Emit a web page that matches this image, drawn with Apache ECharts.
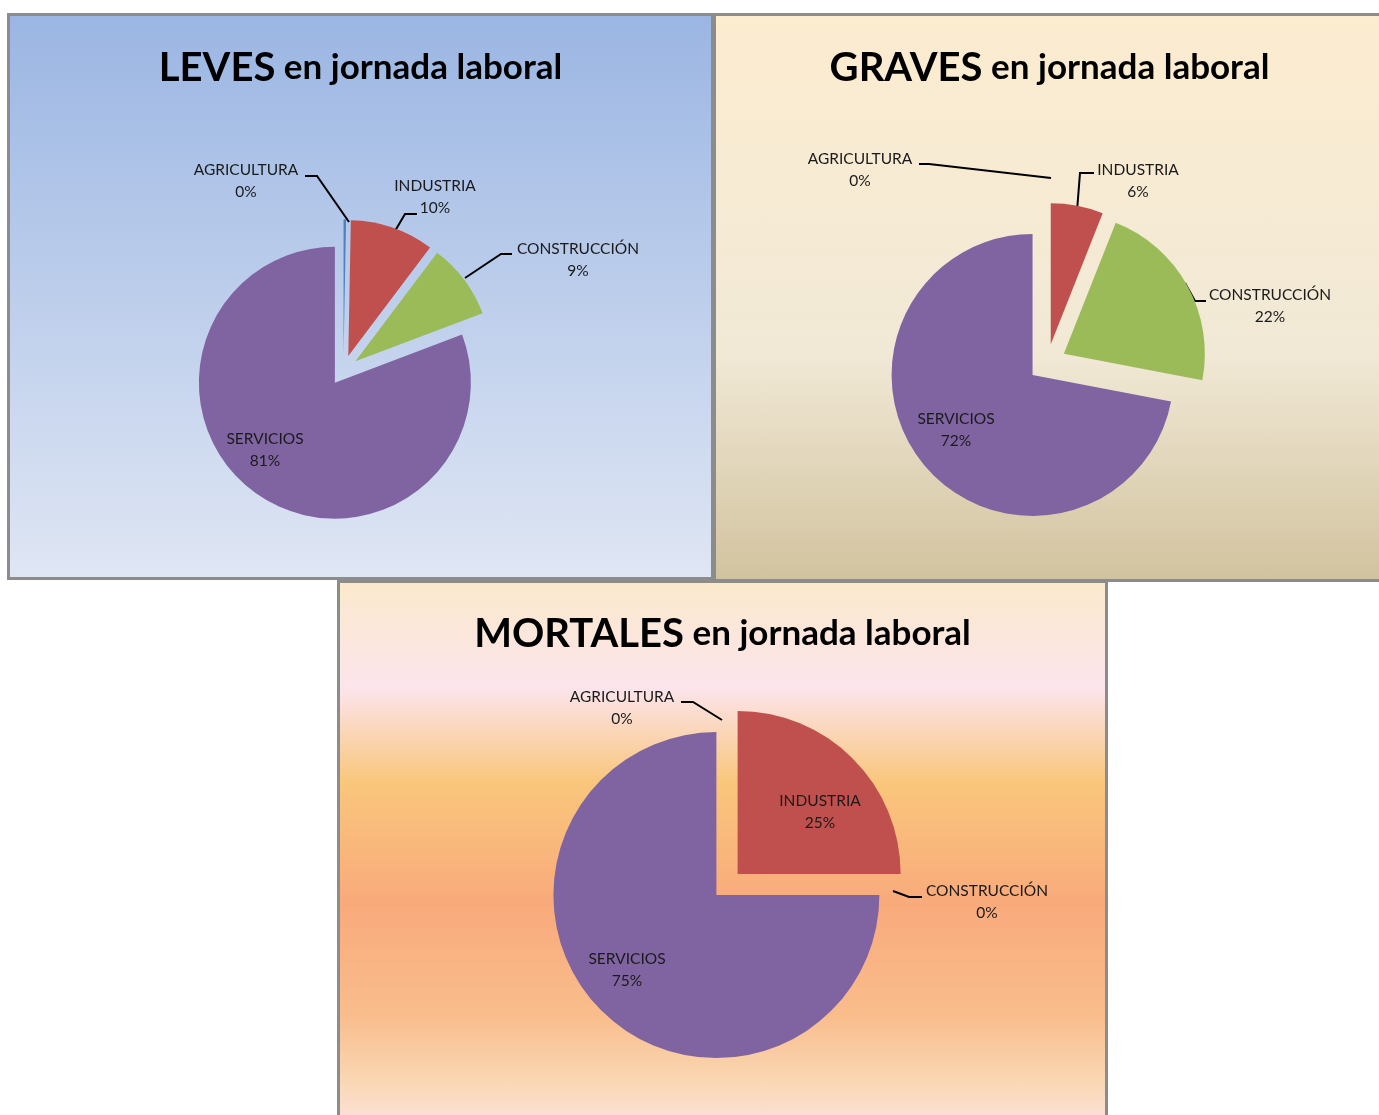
<!DOCTYPE html>
<html><head><meta charset="utf-8">
<script src="https://cdn.jsdelivr.net/npm/echarts@6/dist/echarts.min.js"></script>
<style>
html,body{margin:0;padding:0;background:#fff;width:1379px;height:1115px;overflow:hidden;position:relative;}
.panel{position:absolute;box-sizing:border-box;border:3px solid #8c8c8c;overflow:hidden;}
.chart{position:absolute;left:0;top:0;}
</style></head><body>
<div id="p1" class="panel" style="left:7px;top:13px;width:707px;height:567px;background:linear-gradient(to bottom,#9bb6e3 0%,#dfe6f4 100%);"><div id="c1" class="chart" style="width:701px;height:561px;"></div></div>
<div id="p2" class="panel" style="left:713px;top:13px;width:673px;height:569px;background:linear-gradient(to bottom,#fcecd0 0%,#f1e9d6 60%,#d2c39f 100%);"><div id="c2" class="chart" style="width:667px;height:563px;"></div></div>
<div id="p3" class="panel" style="left:337px;top:580px;width:771px;height:560px;background:linear-gradient(to bottom,#fbe9cc 0%,#fce4ec 19%,#f9c67b 36%,#f9aa7b 58%,#f9bd8c 78%,#fad7b4 90%,#fde4e6 100%);"><div id="c3" class="chart" style="width:765px;height:554px;"></div></div>
<script>
// ---- data ----
const categories = ['AGRICULTURA', 'INDUSTRIA', 'CONSTRUCCIÓN', 'SERVICIOS'];
const levesValues = [0.3, 10, 9, 81];
const gravesValues = [0, 6, 22, 72];
const mortalesValues = [0, 25, 0, 75];
const titleBold = ['LEVES', 'GRAVES', 'MORTALES'];
const titleRest = 'en jornada laboral';

// ---- styles / layout ----
const sliceColors = ['#4f81bd', '#c0504d', '#9bbb59', '#8064a2'];
const FONT = 'Lato, "Noto Sans", sans-serif';
const panels = [
  { el: 'c1', ox: 10, oy: 16, cx: 343.4, cy: 370.3, r: 136, off: 15, values: levesValues, bold: titleBold[0], titleY: 68,
    labels: [
      { c: [246, 181], line: [[349, 222], [317, 176], [305, 176]] },
      { c: [435, 197], line: [[395, 231], [405, 214], [417, 214]] },
      { c: [578, 260], line: [[465, 278], [501, 254], [512, 254]] },
      { c: [265, 450] }
    ] },
  { el: 'c2', ox: 716, oy: 16, cx: 1047.2, cy: 362.9, r: 141, off: 19, values: gravesValues, bold: titleBold[1], titleY: 68,
    labels: [
      { c: [860, 170], line: [[1051, 178], [929, 164], [919, 164]] },
      { c: [1138, 181], line: [[1077, 211], [1080, 173], [1094, 173]] },
      { c: [1270, 306], line: [[1185, 283], [1195, 301], [1206, 301]] },
      { c: [956, 430] }
    ] },
  { el: 'c3', ox: 340, oy: 583, cx: 727, cy: 884.5, r: 163, off: 15, values: mortalesValues, bold: titleBold[2], titleY: 634,
    labels: [
      { c: [622, 708], line: [[722, 720], [693, 702], [681, 702]] },
      { c: [820, 812] },
      { c: [987, 902], line: [[893, 891], [909, 897], [922, 897]] },
      { c: [627, 970] }
    ] }
];

panels.forEach(function (P) {
  const chart = echarts.init(document.getElementById(P.el), null, { renderer: 'canvas' });
  const common = {
    type: 'pie',
    center: [P.cx - P.ox, P.cy - P.oy],
    radius: [0, P.r],
    startAngle: 90,
    clockwise: true,
    avoidLabelOverlap: false,
    percentPrecision: 0,
    minShowLabelAngle: 0,
    emphasis: { disabled: true }
  };
  // visible exploded slices
  const sliceData = categories.map(function (name, i) {
    return { name: name, value: P.values[i], selected: true, itemStyle: { color: sliceColors[i] } };
  });
  // same data, used only to carry the data labels
  const labelData = categories.map(function (name, i) {
    const hasLine = !!P.labels[i].line;
    return {
      name: name,
      value: P.values[i],
      label: { position: hasLine ? 'outside' : 'inside' },
      labelLine: { show: hasLine }
    };
  });
  chart.setOption({
    animation: false,
    backgroundColor: 'transparent',
    title: {
      left: 'center',
      top: P.titleY - P.oy - 23,
      padding: 0,
      text: '{a|' + P.bold + '}{b| ' + titleRest + '}',
      textStyle: {
        rich: {
          a: { fontFamily: FONT, fontWeight: 'bold', fontSize: 40, color: '#000', lineHeight: 46 },
          b: { fontFamily: FONT, fontWeight: 'bold', fontSize: 35, color: '#000', lineHeight: 46 }
        }
      }
    },
    series: [
      Object.assign({}, common, {
        name: 'slices',
        selectedMode: 'multiple',
        selectedOffset: P.off,
        itemStyle: { borderWidth: 0 },
        label: { show: false },
        labelLine: { show: false },
        data: sliceData
      }),
      Object.assign({}, common, {
        name: 'labels',
        silent: true,
        selectedMode: false,
        itemStyle: { color: 'rgba(0,0,0,0)', borderWidth: 0 },
        label: {
          show: true,
          formatter: '{n|{b}}\n{n|{d}%}',
          rich: { n: { align: 'center', fontFamily: FONT, fontSize: 15.5, color: '#1a1a1a', lineHeight: 22 } }
        },
        labelLine: { show: true, smooth: false, lineStyle: { color: '#000', width: 2 } },
        labelLayout: function (p) {
          const L = P.labels[p.dataIndex];
          const res = { x: L.c[0] - P.ox, y: L.c[1] - P.oy, align: 'center', verticalAlign: 'middle' };
          if (L.line) res.labelLinePoints = L.line.map(function (pt) { return [pt[0] - P.ox, pt[1] - P.oy]; });
          return res;
        },
        data: labelData
      })
    ]
  });
});
</script>
</body></html>
